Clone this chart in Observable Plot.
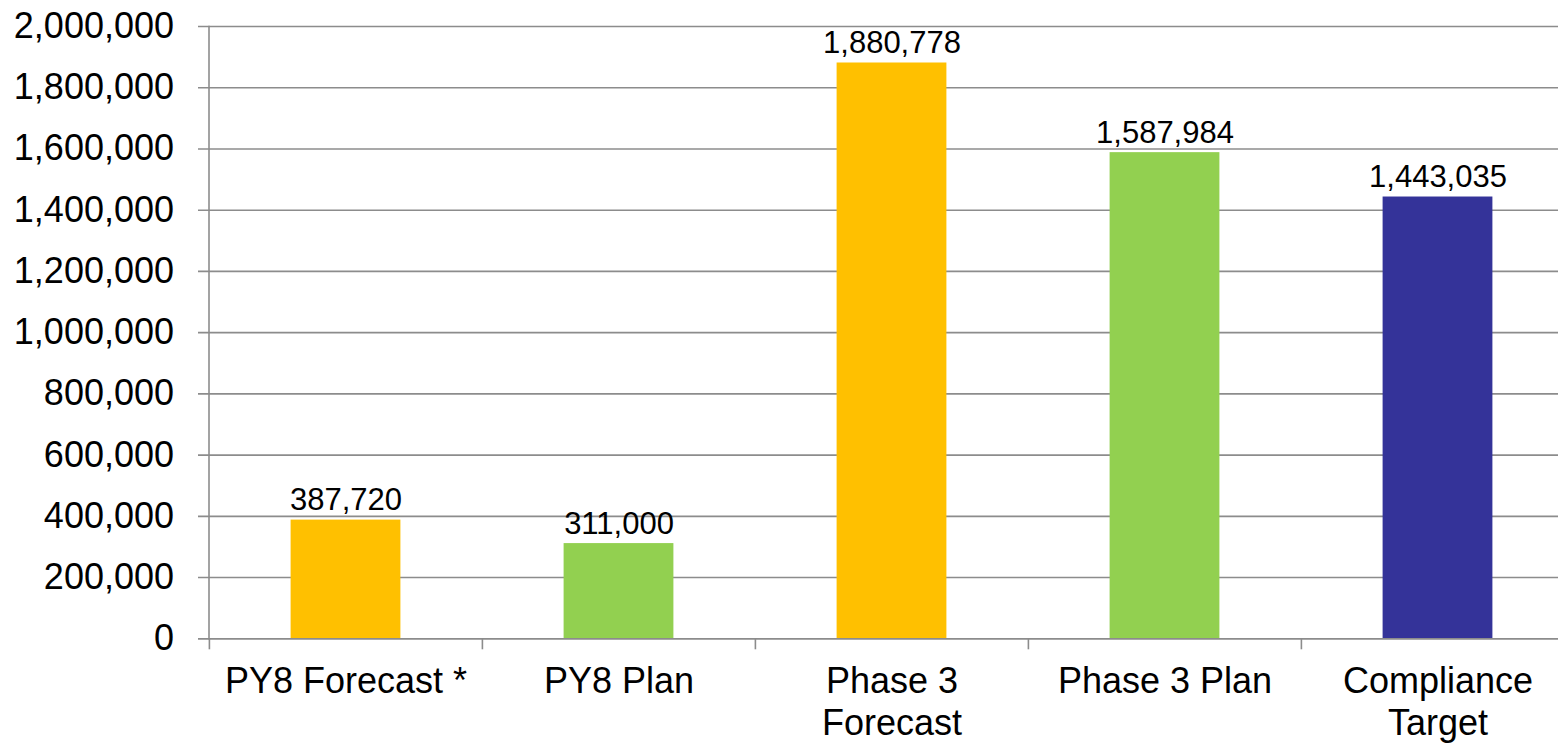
<!DOCTYPE html>
<html>
<head>
<meta charset="utf-8">
<script src="https://cdn.jsdelivr.net/npm/d3@7"></script>
<script src="https://cdn.jsdelivr.net/npm/@observablehq/plot@0.6"></script>
<style>
  html, body { margin: 0; padding: 0; background: #fff; overflow: hidden; }
  #chart svg { display: block; }
</style>
</head>
<body>
<div id="chart"></div>
<script>
const categories = ["PY8 Forecast *", "PY8 Plan", "Phase 3\nForecast", "Phase 3 Plan", "Compliance\nTarget"];
const values = [387720, 311000, 1880778, 1587984, 1443035];
const types = ["Forecast", "Plan", "Forecast", "Plan", "Target"];
const yTicks = [0, 200000, 400000, 600000, 800000, 1000000, 1200000, 1400000, 1600000, 1800000, 2000000];

const typeDomain = ["Forecast", "Plan", "Target"];
const typeColors = ["#FFC000", "#92D050", "#343399"];

const data = categories.map((c, i) => ({category: c, value: values[i], type: types[i]}));

const W = 1558, H = 745;
const xLeft = 208.5, xRight = 1574.5;
const yBottom = 638.3, yTop = 26;
const step = (xRight - xLeft) / categories.length;
const barW = 110;
const inset = (step - barW) / 2;
const grid = "#8c8c8c";
const font = "'Liberation Sans', Arial, Helvetica, sans-serif";

const chart = Plot.plot({
  width: W,
  height: H,
  marginLeft: xLeft,
  marginRight: 0,
  marginTop: yTop,
  marginBottom: H - yBottom,
  style: {fontFamily: font, background: "#fff", color: "#000", overflow: "visible"},
  x: {domain: categories, range: [xLeft, xRight], padding: 0},
  y: {domain: [0, 2000000], range: [yBottom, yTop]},
  color: {domain: typeDomain, range: typeColors},
  marks: [
    Plot.ruleY(yTicks, {stroke: grid, strokeWidth: 1.6, insetLeft: -10.5}),
    Plot.frame({anchor: "left", stroke: grid, strokeWidth: 1.6}),
    Plot.barY(data, {x: "category", y: "value", fill: "type", insetLeft: inset, insetRight: inset}),
    Plot.ruleY([0], {stroke: grid, strokeWidth: 1.6, insetLeft: -10.5}),
    Plot.ruleX(categories, {x: d => d, dx: -step / 2, y1: 0, y2: 0, insetBottom: -11, stroke: grid, strokeWidth: 1.6}),
    Plot.text(data, {
      x: "category", y: "value", text: d => d3.format(",")(d.value),
      textAnchor: "middle", lineAnchor: "bottom", dy: -10,
      fontSize: 31, fill: "#000", fontFamily: font
    }),
    Plot.axisY({
      ticks: yTicks, tickFormat: d3.format(","), tickSize: 0, tickPadding: 35,
      fontSize: 36, label: null, fill: "#000", fontFamily: font
    }),
    Plot.axisX({
      tickSize: 0, tickPadding: 25, fontSize: 36, lineHeight: 1.15,
      label: null, fill: "#000", fontFamily: font
    })
  ]
});

document.getElementById("chart").appendChild(chart);
</script>
</body>
</html>
